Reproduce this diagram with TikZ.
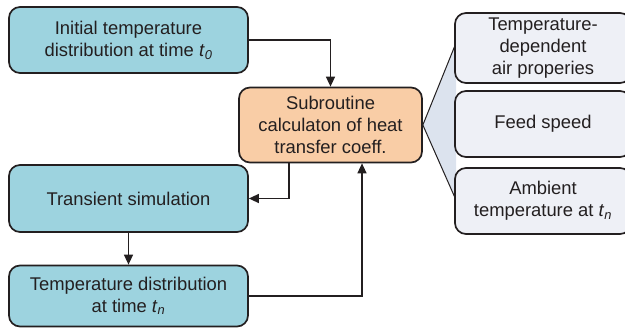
\documentclass[tikz,border=0pt]{standalone}
\usepackage{fontspec}
\setmainfont{Liberation Sans}
\usetikzlibrary{arrows.meta}

\definecolor{boxteal}{HTML}{9DD3DF}
\definecolor{boxorange}{HTML}{F9CDA6}
\definecolor{boxgrey}{HTML}{EEF0F6}
\definecolor{fanblue}{HTML}{DCE3EE}
\definecolor{edge}{HTML}{231F20}

\newcommand{\tsub}[1]{\textit{t}\textsubscript{\textit{#1}}}

\begin{document}
\begin{tikzpicture}[x=1pt, y=-1pt, line width=1.7pt,
    box/.style={draw=edge, rounded corners=11pt, align=center, inner sep=0pt,
        font=\fontsize{18.4}{22}\selectfont, text=edge},
    arr/.style={draw=edge, line width=1.4pt, -{Triangle[length=10pt, width=9pt]}}]
    \useasboundingbox (0,0) rectangle (625,328);

    \node[box, fill=boxteal, minimum width=239pt, minimum height=66pt] at (128.5, 40) (A) {Initial temperature\\distribution at time \tsub{0}};
    \node[box, fill=boxorange, minimum width=183pt, minimum height=75pt] at (330.5, 125) (S) {Subroutine\\calculaton of heat\\transfer coeff.};
    \node[box, fill=boxteal, minimum width=239pt, minimum height=67pt] at (128.5, 198.5) (T) {Transient simulation};
    \node[box, fill=boxteal, minimum width=239pt, minimum height=61pt] at (128.5, 296) (D) {Temperature distribution\\at time \tsub{n}};

    % fan from the subroutine to the inputs
    \coordinate (F1) at (456, 43);
    \coordinate (F2) at (456, 200);
    \fill[fanblue] (S.east) -- (F1) -- (F2) -- cycle;
    \draw[edge, line width=1pt] (F1) -- (S.east) -- (F2);

    \node[box, fill=boxgrey, minimum width=176pt, minimum height=70pt] at (543, 48) (P1) {Temperature-\\dependent\\air properies};
    \node[box, fill=boxgrey, minimum width=176pt, minimum height=66pt] at (543, 124) (P2) {Feed speed};
    \node[box, fill=boxgrey, minimum width=176pt, minimum height=66pt] at (543, 201) (P3) {Ambient\\temperature at \tsub{n}};

    \draw[arr] (A.east) -| (S.north);
    \draw[arr] ([xshift=-41.5pt]S.south) |- (T.east);
    \draw[arr] (T.south) -- (D.north);
    \draw[arr] (D.east) -| ([xshift=31.5pt]S.south);

\end{tikzpicture}
\end{document}
